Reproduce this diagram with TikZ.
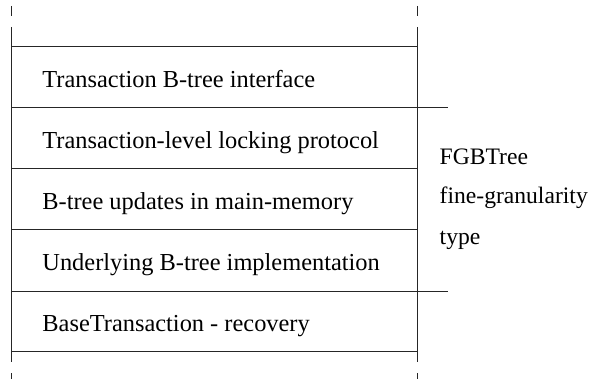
\documentclass[tikz,border=0pt]{standalone}
\usepackage{fontspec}
\setmainfont{Liberation Serif}
\begin{document}
\begin{tikzpicture}[x=1pt,y=-1pt,
  rule/.style={line width=1pt,draw=black!85},
  layertext/.style={anchor=base west,inner sep=0pt,font=\fontsize{24.4}{29}\selectfont},
  sidetext/.style={anchor=base west,inner sep=0pt,font=\fontsize{23.6}{28}\selectfont}]
  \useasboundingbox (0,0) rectangle (592,379);

  % side rails with broken ends
  \coordinate (lt) at (11.5,27);  \coordinate (lb) at (11.5,362);
  \coordinate (rt) at (417,27);   \coordinate (rb) at (417,362);
  \draw[rule] (lt) -- (lb);
  \draw[rule] (rt) -- (rb);
  \draw[rule] (11.5,6) -- (11.5,16);
  \draw[rule] (417,6) -- (417,16);
  \draw[rule] (11.5,373.5) -- (11.5,379);
  \draw[rule] (417,373.5) -- (417,379);

  % layer separators
  \foreach \y in {47,108,169,230,291.5,352}
    \draw[rule] (11.5,\y) -- (417,\y);

  % bracket marks for the grouped layers
  \draw[rule] (417,108) -- (448,108);
  \draw[rule] (417,291.5) -- (448,291.5);

  % layer labels
  \node[layertext] (l1) at (42.2,88)  {Transaction B-tree interface};
  \node[layertext] (l2) at (42.2,149) {Transaction-level locking protocol};
  \node[layertext] (l3) at (42.2,210) {B-tree updates in main-memory};
  \node[layertext] (l4) at (42.2,271) {Underlying B-tree implementation};
  \node[layertext] (l5) at (42.2,332) {BaseTransaction - recovery};

  % group label
  \node[sidetext] (g1) at (439.5,164.5) {FGBTree};
  \node[sidetext] (g2) at (439.5,203.5) {fine-granularity};
  \node[sidetext] (g3) at (439.5,244.5) {type};
\end{tikzpicture}
\end{document}
